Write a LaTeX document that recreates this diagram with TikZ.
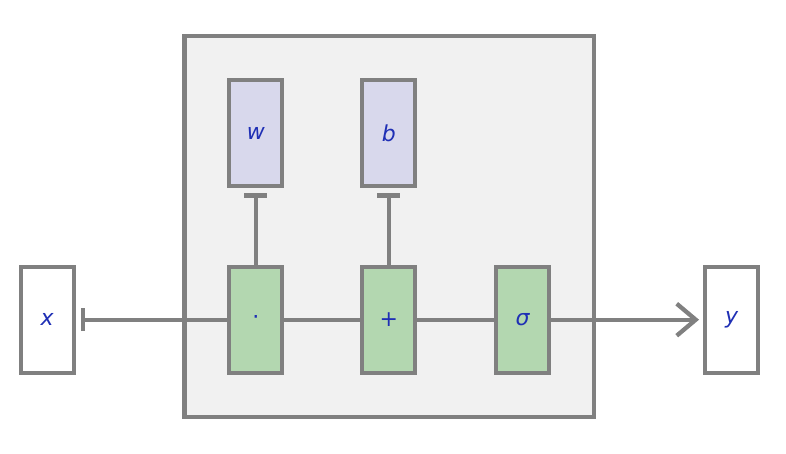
\documentclass[tikz,border=0pt]{standalone}
\usepackage{fontspec}
\setmainfont{DejaVu Sans}
\usetikzlibrary{arrows.meta}
\definecolor{edgegray}{HTML}{808080}
\definecolor{panelbg}{HTML}{F1F1F1}
\definecolor{paramfill}{HTML}{D8D8EC}
\definecolor{opfill}{HTML}{B3D7B0}
\definecolor{txtblue}{HTML}{1F2FB5}
\begin{document}
\begin{tikzpicture}[x=1pt,y=-1pt,
  box/.style={draw=edgegray,line width=4.3pt,minimum width=53pt,minimum height=106pt,inner sep=0pt,
    text=txtblue,font=\fontsize{22}{26}\selectfont},
  iobox/.style={box,fill=white},
  parbox/.style={box,fill=paramfill},
  opbox/.style={box,fill=opfill},
  conn/.style={draw=edgegray,line width=4.3pt},
  bartip/.style={conn,{Bar[width=23pt,line width=4.3pt]}-},
  arrtip/.style={conn,-{Straight Barb[length=19pt,width=32pt,line width=4.3pt]}}
]
\useasboundingbox (0,0) rectangle (786,454);
\draw[draw=edgegray,fill=panelbg,line width=4.3pt] (184.5,36) rectangle (594,417);
\node[iobox] (x) at (47.2,319.7) {\itshape x};
\node[opbox] (dot) at (255.8,319.7) {·};
\node[opbox] (plus) at (388.8,319.7) {+};
\node[opbox] (sig) at (522.5,319.7) {\itshape σ};
\node[iobox] (y) at (731.7,319.7) {\itshape y};
\node[parbox] (w) at (255.8,133.3) {\itshape w};
\node[parbox] (b) at (388.8,133.3) {\itshape b};
\draw[bartip,shorten <=5pt] (x) -- (dot);
\draw[conn] (dot) -- (plus);
\draw[conn] (plus) -- (sig);
\draw[arrtip,shorten >=4pt] (sig) -- (y);
\draw[bartip,shorten <=5pt] (w) -- (dot);
\draw[bartip,shorten <=5pt] (b) -- (plus);
\end{tikzpicture}
\end{document}
